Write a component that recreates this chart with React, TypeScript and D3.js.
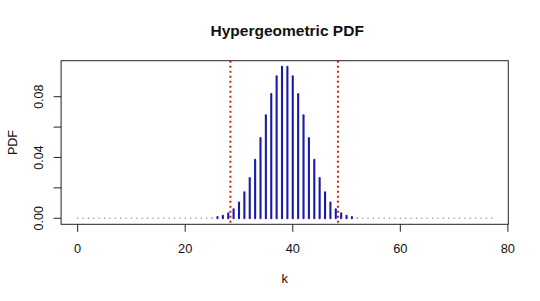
import React from "react";
import * as d3 from "d3";

const kValues: number[] = Array.from({ length: 78 }, (_, i) => i);
// PDF values for k = 23..54; all other k are ~0
const pdfStartK = 23;
const pdfValues: number[] = [
  0.00005, 0.0001, 0.0003, 0.0008, 0.0016, 0.0032, 0.0059, 0.0104,
  0.0170, 0.0264, 0.0384, 0.0528, 0.0678, 0.0818, 0.0935, 0.0997,
  0.0997, 0.0935, 0.0818, 0.0678, 0.0528, 0.0384, 0.0264, 0.0170,
  0.0104, 0.0059, 0.0032, 0.0016, 0.0008, 0.0003, 0.0001, 0.00005,
];
const redLines: number[] = [28.4, 48.4];
const xTicks: number[] = [0, 20, 40, 60, 80];
const yTicks: number[] = [0, 0.02, 0.04, 0.06, 0.08];
const yTickLabels: number[] = [0, 0.04, 0.08];
const title = "Hypergeometric PDF";
const xLabel = "k";
const yLabel = "PDF";

const W = 540;
const H = 301;
const plotL = 61.1;
const plotR = 508.3;
const plotT = 60.7;
const plotB = 224.3;
const FONT = "'Liberation Sans', Arial, sans-serif";

export default function App() {
  const data = kValues.map((k) => {
    const idx = k - pdfStartK;
    const v = idx >= 0 && idx < pdfValues.length ? pdfValues[idx] : 0;
    return { k, v };
  });
  const xMin = d3.min(kValues) as number;
  const xMax = d3.max(kValues) as number;
  const xPad = (xMax - xMin) * 0.04;
  const yMax = d3.max(data, (d) => d.v) as number;
  const yPad = yMax * 0.04;

  const x = d3.scaleLinear().domain([xMin - xPad, xMax + xPad]).range([plotL, plotR]);
  const y = d3.scaleLinear().domain([0 - yPad, yMax + yPad]).range([plotB, plotT]);

  const barColor = "#1a1aa8";

  return (
    <svg
      width={W}
      height={H}
      style={{ position: "absolute", left: 0, top: 0, background: "#fff" }}
      fontFamily={FONT}
    >
      <rect x={0} y={0} width={W} height={H} fill="#fff" />
      {/* bars */}
      {data.map((d) => (
        <line
          key={d.k}
          x1={x(d.k)}
          x2={x(d.k)}
          y1={y(0)}
          y2={y(d.v)}
          stroke={d.v > 0.0004 ? barColor : "#8888aa"}
          strokeWidth={d.v > 0.0004 ? 2.1 : 1.4}
          strokeLinecap="round"
        />
      ))}
      {/* red dotted lines */}
      {redLines.map((r, i) => (
        <line
          key={i}
          x1={x(r)}
          x2={x(r)}
          y1={plotT}
          y2={plotB}
          stroke="#d42020"
          strokeWidth={2}
          strokeDasharray="2,3"
        />
      ))}
      {/* box */}
      <rect
        x={plotL}
        y={plotT}
        width={plotR - plotL}
        height={plotB - plotT}
        fill="none"
        stroke="#222"
        strokeWidth={1}
      />
      {/* x axis */}
      {xTicks.map((t) => (
        <g key={t}>
          <line x1={x(t)} x2={x(t)} y1={plotB} y2={plotB + 7.5} stroke="#222" strokeWidth={1} />
          <text x={x(t)} y={252.5} textAnchor="middle" fontSize={12.8} fill="#111">
            {t}
          </text>
        </g>
      ))}
      {/* y axis */}
      {yTicks.map((t) => (
        <line key={t} x1={plotL - 7.5} x2={plotL} y1={y(t)} y2={y(t)} stroke="#222" strokeWidth={1} />
      ))}
      {yTickLabels.map((t) => (
        <text
          key={t}
          transform={`translate(43.3,${y(t)}) rotate(-90)`}
          textAnchor="middle"
          fontSize={12.5}
          fill="#111"
        >
          {d3.format(".2f")(t)}
        </text>
      ))}
      <text
        transform={`translate(16.7,${(plotT + plotB) / 2}) rotate(-90)`}
        textAnchor="middle"
        fontSize={12.5}
        fill="#111"
      >
        {yLabel}
      </text>
      <text x={(plotL + plotR) / 2} y={282.5} textAnchor="middle" fontSize={12.8} fill="#111">
        {xLabel}
      </text>
      <text
        x={(plotL + plotR) / 2 + 2.5}
        y={36.3}
        textAnchor="middle"
        fontSize={15.5}
        fontWeight="bold"
        fill="#111"
      >
        {title}
      </text>
    </svg>
  );
}
